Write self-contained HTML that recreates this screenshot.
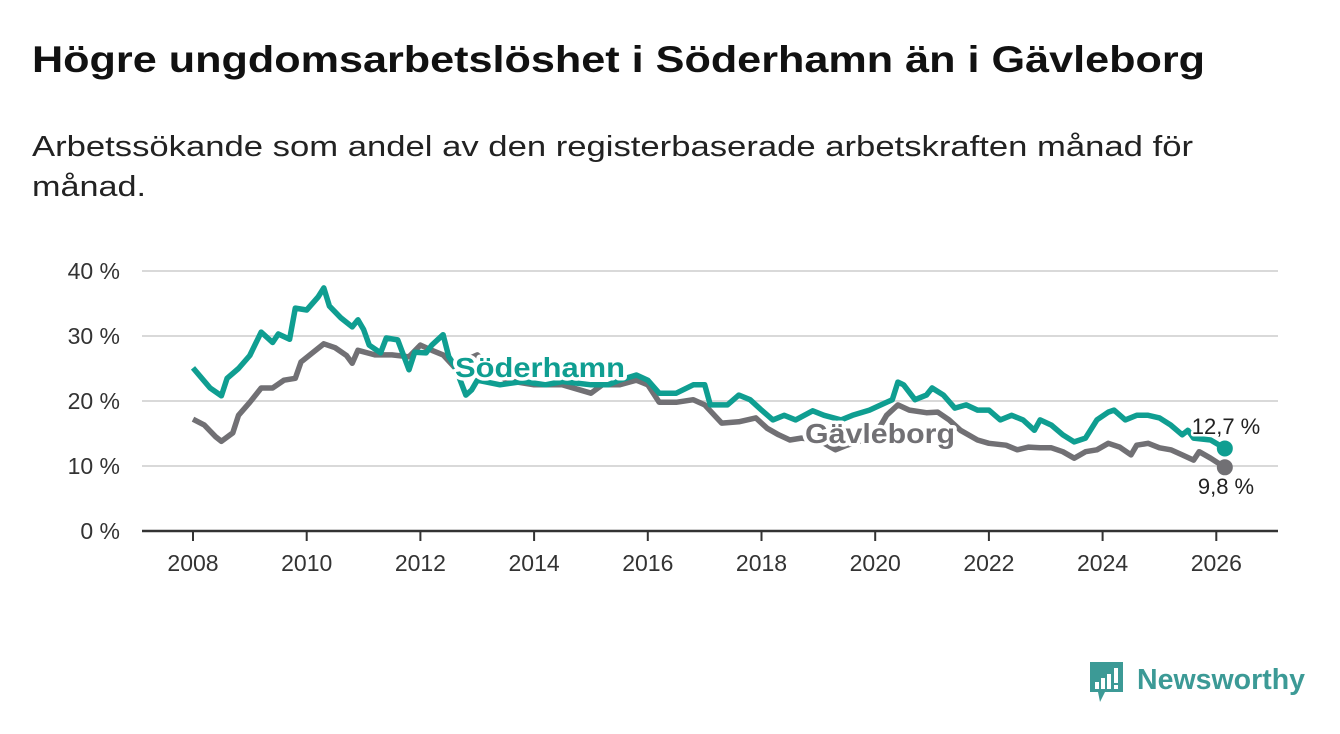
<!DOCTYPE html>
<html><head><meta charset="utf-8"><style>
body{margin:0;background:#fff;width:1340px;height:734px;overflow:hidden;font-family:"Liberation Sans","DejaVu Sans",sans-serif}
svg{position:absolute;left:0;top:0}
</style></head><body>
<svg width="1340" height="734">
<text x="32" y="72" font-size="37" font-weight="bold" fill="#111" textLength="1173" lengthAdjust="spacingAndGlyphs">Högre ungdomsarbetslöshet i Söderhamn än i Gävleborg</text>
<text x="32" y="156" font-size="29" fill="#222" textLength="1161" lengthAdjust="spacingAndGlyphs">Arbetssökande som andel av den registerbaserade arbetskraften månad för</text>
<text x="32" y="196" font-size="29" fill="#222" textLength="114" lengthAdjust="spacingAndGlyphs">månad.</text>
<g id="grid"></g><g id="axes"></g><g id="lines"></g><g id="labels"></g>
<g>
<path d="M1090 662 h33 v30 h-18 l-5 10 l-2 -10 h-8 z" fill="#3c9a96"/>
<rect x="1095" y="682" width="4" height="7" fill="#fff"/><rect x="1101" y="678" width="4" height="11" fill="#fff"/><rect x="1107" y="674" width="4" height="15" fill="#fff"/><rect x="1114" y="668" width="4" height="15" fill="#fff"/><rect x="1114" y="685" width="4" height="4" fill="#fff"/>
<text x="1137" y="689" font-size="29" font-weight="bold" fill="#3c9a96" textLength="168" lengthAdjust="spacingAndGlyphs">Newsworthy</text>
</g>
</svg>
<script>
const yTicks=[0,10,20,30,40];
const xTicks=[2008,2010,2012,2014,2016,2018,2020,2022,2024,2026];
const sodT=[2008.0,2008.3,2008.5,2008.6,2008.8,2009.0,2009.2,2009.4,2009.5,2009.7,2009.8,2010.0,2010.2,2010.3,2010.4,2010.6,2010.8,2010.9,2011.0,2011.1,2011.3,2011.4,2011.6,2011.8,2011.9,2012.1,2012.2,2012.4,2012.5,2012.6,2012.8,2012.9,2013.0,2013.4,2013.8,2014.2,2014.5,2015.0,2015.3,2015.5,2015.8,2016.0,2016.2,2016.5,2016.8,2017.0,2017.1,2017.4,2017.6,2017.8,2018.0,2018.2,2018.4,2018.6,2018.9,2019.1,2019.4,2019.6,2019.9,2020.1,2020.3,2020.4,2020.5,2020.7,2020.9,2021.0,2021.2,2021.4,2021.6,2021.8,2022.0,2022.2,2022.4,2022.6,2022.8,2022.9,2023.1,2023.3,2023.5,2023.7,2023.9,2024.1,2024.2,2024.4,2024.6,2024.8,2025.0,2025.2,2025.4,2025.5,2025.6,2025.9,2026.15];
const sodV=[25.1,22,20.8,23.5,25,27,30.6,29,30.3,29.5,34.3,34,36,37.4,34.6,32.8,31.4,32.5,31,28.6,27.4,29.7,29.4,24.8,27.5,27.4,28.6,30.2,26.8,25.5,20.9,21.7,23.2,22.5,23,22.5,23,22.5,22.5,23.2,24,23.2,21.2,21.2,22.5,22.5,19.4,19.4,20.9,20.2,18.6,17.1,17.8,17.1,18.5,17.8,17.1,17.8,18.6,19.4,20.2,22.9,22.5,20.2,20.9,22,20.9,18.9,19.4,18.6,18.6,17.1,17.8,17.1,15.5,17.1,16.3,14.8,13.7,14.3,17.1,18.3,18.6,17.1,17.8,17.8,17.4,16.3,14.8,15.5,14.3,14,12.7];
const gavT=[2008.0,2008.2,2008.4,2008.5,2008.7,2008.8,2009.0,2009.2,2009.4,2009.6,2009.8,2009.9,2010.1,2010.3,2010.5,2010.7,2010.8,2010.9,2011.2,2011.5,2011.8,2012.0,2012.2,2012.4,2012.6,2012.8,2013.0,2013.5,2014.0,2014.5,2015.0,2015.2,2015.5,2015.8,2016.0,2016.2,2016.5,2016.8,2017.0,2017.3,2017.6,2017.9,2018.1,2018.3,2018.5,2018.7,2019.0,2019.3,2019.5,2019.8,2020.0,2020.2,2020.4,2020.6,2020.9,2021.1,2021.3,2021.5,2021.8,2022.0,2022.3,2022.5,2022.7,2022.9,2023.1,2023.3,2023.5,2023.7,2023.9,2024.1,2024.3,2024.5,2024.6,2024.8,2025.0,2025.2,2025.4,2025.6,2025.7,2025.9,2026.15];
const gavV=[17.2,16.3,14.5,13.8,15.1,17.8,19.8,22,22,23.2,23.5,26,27.4,28.8,28.2,27,25.8,27.8,27.1,27.1,26.8,28.6,27.8,27.1,25.2,26.3,27.1,23.2,22.5,22.5,21.2,22.5,22.5,23.2,22.5,19.8,19.8,20.2,19.4,16.6,16.8,17.4,15.8,14.8,14,14.3,14,12.5,13.2,14,14.8,17.8,19.4,18.6,18.2,18.3,17.1,15.5,14,13.5,13.2,12.5,12.9,12.8,12.8,12.2,11.2,12.2,12.5,13.5,12.9,11.7,13.2,13.5,12.8,12.5,11.7,10.9,12.2,11.2,9.8];
const NS="http://www.w3.org/2000/svg";
const X=t=>193+(t-2008)*56.85, Y=v=>531-v*6.5;
function mk(tag,attrs,parent){const e=document.createElementNS(NS,tag);for(const k in attrs)e.setAttribute(k,attrs[k]);document.getElementById(parent).appendChild(e);return e;}
yTicks.forEach(v=>{
 if(v>0){const g=mk('line',{x1:142,x2:1278,y1:Y(v),y2:Y(v),stroke:'#d9d9d9','stroke-width':2},'grid');
 
 }
 const t=mk('text',{x:120,y:Y(v)+8,'text-anchor':'end','font-size':23,fill:'#333'},'axes');t.textContent=v+' %';
 
 
});
const ax=mk('line',{x1:142,x2:1278,y1:531,y2:531,stroke:'#333','stroke-width':2.5},'axes');


xTicks.forEach(y=>{
 mk('line',{x1:X(y),x2:X(y),y1:531,y2:541,stroke:'#333','stroke-width':2},'axes');
 const t=mk('text',{x:X(y),y:571,'text-anchor':'middle','font-size':23,fill:'#333'},'axes');t.textContent=y;
 
 
});
function line(T,V,col,name){
 const d=T.map((t,i)=>(i?'L':'M')+X(t).toFixed(1)+' '+Y(V[i]).toFixed(1)).join(' ');
 const p=mk('path',{d:d,fill:'none',stroke:col,'stroke-width':5.5,'stroke-linejoin':'round'},'lines');
 
 
 const c=mk('circle',{cx:X(T[T.length-1]),cy:Y(V[V.length-1]),r:8,fill:col},'lines');
 
 
}
line(gavT,gavV,'#717074','gavleborg');
line(sodT,sodV,'#0f9e91','soderhamn');
function lab(x,y,txt,col,size,bold,anchor,name,len){
 const a={x:x,y:y,'font-size':size,'font-weight':bold?'bold':'normal',fill:col,stroke:'#fff','stroke-width':bold?7:5,'paint-order':'stroke','text-anchor':anchor||'start','stroke-linejoin':'round'};
 if(len){a.textLength=len;a.lengthAdjust='spacingAndGlyphs';}
 const t=mk('text',a,'labels');
 t.textContent=txt;
 
 
}
lab(455,377,'Söderhamn','#0f9e91',28,true,'start','soderhamn-label',170);
lab(805,443,'Gävleborg','#717074',28,true,'start','gavleborg-label',150);
lab(1226,434,sodV[sodV.length-1].toString().replace('.',',')+' %','#222',22,false,'middle','soderhamn-value');
lab(1226,494,gavV[gavV.length-1].toString().replace('.',',')+' %','#222',22,false,'middle','gavleborg-value');
</script>
</body></html>
